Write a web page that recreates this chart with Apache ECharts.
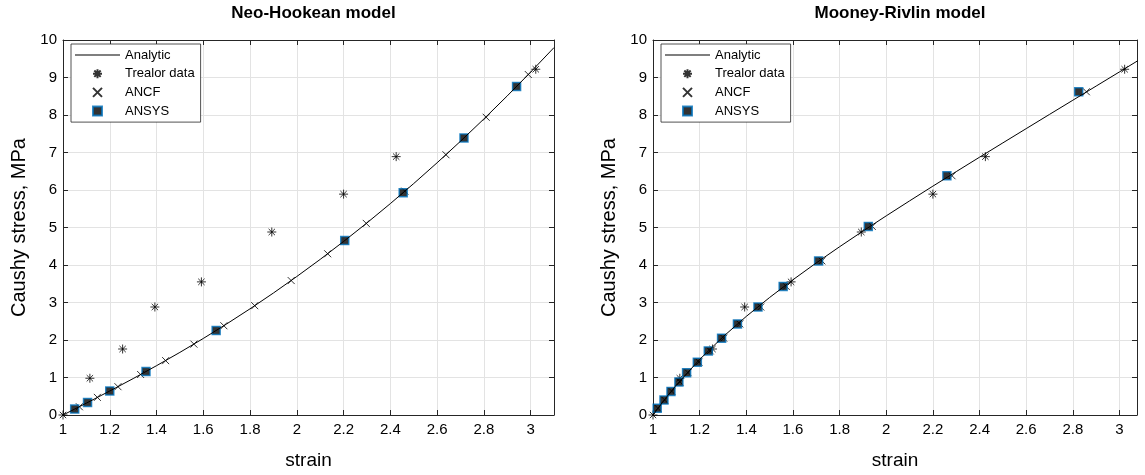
<!DOCTYPE html>
<html><head><meta charset="utf-8">
<script src="https://cdn.jsdelivr.net/npm/echarts@6/dist/echarts.min.js"></script>
<style>html,body{margin:0;padding:0;background:#fff}#c{width:1145px;height:475px}</style>
</head><body><div id="c"></div>
<script>
// ---------- data ----------
const titles = ['Neo-Hookean model', 'Mooney-Rivlin model'];
const xAxisName = 'strain';
const yAxisName = 'Caushy stress, MPa';
const seriesNames = ['Analytic', 'Trealor data', 'ANCF', 'ANSYS'];
const xMax = [3.1, 3.075];
const yTickValues = [0, 1, 2, 3, 4, 5, 6, 7, 8, 9, 10];

const analyticStrain = [1, 1.05, 1.1, 1.2, 1.3, 1.4, 1.5, 1.6, 1.7, 1.8, 1.9, 2.0, 2.1, 2.2, 2.3, 2.4, 2.5, 2.6, 2.7, 2.8, 2.9, 3.0, 3.1];
const nhAnalyticStress = [0, 0.158, 0.317, 0.640, 0.971, 1.315, 1.670, 2.041, 2.428, 2.832, 3.253, 3.693, 4.150, 4.627, 5.122, 5.637, 6.172, 6.726, 7.300, 7.894, 8.509, 9.143, 9.798];
const mrAnalyticStress = [0, 0.416, 0.798, 1.481, 2.084, 2.630, 3.134, 3.606, 4.056, 4.487, 4.904, 5.311, 5.710, 6.103, 6.490, 6.875, 7.257, 7.637, 8.016, 8.394, 8.772, 9.150, 9.529];

const treloarStrain = [1, 1.115, 1.255, 1.393, 1.592, 1.893, 2.2, 2.425, 3.022];
const treloarStress = [0, 0.98, 1.76, 2.88, 3.55, 4.88, 5.89, 6.89, 9.22];

const nhAncfStrain = [1.07, 1.147, 1.235, 1.332, 1.439, 1.56, 1.688, 1.82, 1.976, 2.132, 2.297, 2.462, 2.638, 2.81, 2.99];
const nhAncfStress = [0.22, 0.47, 0.755, 1.08, 1.45, 1.89, 2.38, 2.915, 3.585, 4.30, 5.11, 5.97, 6.94, 7.94, 9.08];
const nhAnsysStrain = [1.05, 1.105, 1.2, 1.355, 1.655, 2.205, 2.455, 2.715, 2.94];
const nhAnsysStress = [0.158, 0.333, 0.640, 1.158, 2.252, 4.651, 5.93, 7.388, 8.76];

const mrAnsysStrain = [1.018, 1.047, 1.077, 1.111, 1.144, 1.19, 1.237, 1.294, 1.362, 1.45, 1.558, 1.71, 1.923, 2.26, 2.825];
const mrAnsysStress = [0.18, 0.40, 0.63, 0.88, 1.13, 1.41, 1.71, 2.05, 2.43, 2.88, 3.43, 4.11, 5.03, 6.38, 8.62];
const mrAncfStrain = [1.021, 1.05, 1.081, 1.116, 1.15, 1.197, 1.245, 1.303, 1.372, 1.462, 1.571, 1.724, 1.94, 2.282, 2.858];
const mrAncfStress = [0.18, 0.40, 0.63, 0.88, 1.13, 1.41, 1.71, 2.05, 2.43, 2.88, 3.43, 4.11, 5.03, 6.38, 8.62];

// ---------- styling ----------
const FONT = 'Liberation Sans, Arial, Helvetica, sans-serif';
const AXC = '#262626';
const GRIDC = '#e3e3e3';
const ASTER = 'path://M0,5L10,5M5,0L5,10M1.46,1.46L8.54,8.54M8.54,1.46L1.46,8.54';
const XMARK = 'path://M0,0L10,10M10,0L0,10';
const SQUARE = 'path://M0,0H10V10H0Z';
const LINEICON = 'path://M0,0H45V1.2H0Z';

const zip = (a, b) => a.map((v, i) => [v, b[i]]);

const grids = [
  {left: 63, top: 40, width: 491, height: 384},
  {left: 653, top: 40, width: 484, height: 384}
];

const xAxes = [], yAxes = [], series = [], legends = [], titleArr = [];
grids.forEach((g, gi) => {
  const suf = gi ? '\u200b' : '';
  xAxes.push({
    type: 'value', gridIndex: gi, min: 1, max: xMax[gi], interval: 0.2,
    position: 'bottom',
    name: xAxisName, nameLocation: 'middle', nameGap: 36,
    nameTextStyle: {fontFamily: FONT, fontSize: 19, color: '#000'},
    axisLine: {show: true, onZero: false, lineStyle: {color: AXC, width: 1}},
    axisTick: {show: true, inside: true, length: 5, lineStyle: {color: AXC}},
    axisLabel: {fontFamily: FONT, fontSize: 15, color: '#000', margin: 7, showMaxLabel: false},
    splitLine: {show: true, lineStyle: {color: GRIDC, width: 1}}
  });
  xAxes.push({
    type: 'value', gridIndex: gi, min: 1, max: xMax[gi], interval: 0.2,
    position: 'top',
    axisLine: {show: true, onZero: false, lineStyle: {color: AXC, width: 1}},
    axisTick: {show: true, inside: true, length: 5, lineStyle: {color: AXC}},
    axisLabel: {show: false}, splitLine: {show: false}
  });
  yAxes.push({
    type: 'value', gridIndex: gi, min: yTickValues[0], max: yTickValues[yTickValues.length - 1], interval: 1,
    position: 'left',
    name: yAxisName, nameLocation: 'middle', nameGap: 34, nameRotate: 90,
    nameTextStyle: {fontFamily: FONT, fontSize: 20, color: '#000'},
    axisLine: {show: true, onZero: false, lineStyle: {color: AXC, width: 1}},
    axisTick: {show: true, inside: true, length: 5, lineStyle: {color: AXC}},
    axisLabel: {fontFamily: FONT, fontSize: 15, color: '#000', margin: 6},
    splitLine: {show: true, lineStyle: {color: GRIDC, width: 1}}
  });
  yAxes.push({
    type: 'value', gridIndex: gi, min: yTickValues[0], max: yTickValues[yTickValues.length - 1], interval: 1,
    position: 'right',
    axisLine: {show: true, onZero: false, lineStyle: {color: AXC, width: 1}},
    axisTick: {show: true, inside: true, length: 5, lineStyle: {color: AXC}},
    axisLabel: {show: false}, splitLine: {show: false}
  });
  titleArr.push({
    text: titles[gi], left: g.left + g.width / 2, top: 0, textAlign: 'center',
    textStyle: {fontFamily: FONT, fontSize: 17, fontWeight: 'bold', color: '#000'}
  });
  legends.push({
    orient: 'vertical', left: g.left + 8, top: 44,
    data: [
      {name: seriesNames[0] + suf, icon: LINEICON},
      {name: seriesNames[1] + suf},
      {name: seriesNames[2] + suf},
      {name: seriesNames[3] + suf}
    ],
    formatter: n => n.replace('\u200b', ''),
    itemWidth: 45, itemHeight: 9, itemGap: 4.7,
    backgroundColor: '#fff', borderColor: AXC, borderWidth: 0.8, borderRadius: 0,
    padding: [4, 6, 4, 4], selectedMode: false,
    textStyle: {fontFamily: FONT, fontSize: 13, color: '#000', lineHeight: 14}
  });
});

const sets = [
  {analytic: nhAnalyticStress, ancfX: nhAncfStrain, ancfY: nhAncfStress, ansysX: nhAnsysStrain, ansysY: nhAnsysStress},
  {analytic: mrAnalyticStress, ancfX: mrAncfStrain, ancfY: mrAncfStress, ansysX: mrAnsysStrain, ansysY: mrAnsysStress}
];
sets.forEach((s, gi) => {
  const suf = gi ? '\u200b' : '';
  const xi = gi * 2, yi = gi * 2;
  series.push({
    type: 'line', name: seriesNames[0] + suf, xAxisIndex: xi, yAxisIndex: yi,
    data: zip(analyticStrain, s.analytic), symbol: 'none', showSymbol: false,
    lineStyle: {color: '#000', width: 1}, itemStyle: {color: '#000'}, silent: true, clip: true
  });
  series.push({
    type: 'scatter', name: seriesNames[1] + suf, xAxisIndex: xi, yAxisIndex: yi,
    data: zip(treloarStrain, treloarStress), symbol: ASTER, symbolSize: 9,
    itemStyle: {color: 'rgba(0,0,0,0)', borderColor: '#000', borderWidth: 1}, silent: true, clip: false
  });
  series.push({
    type: 'scatter', name: seriesNames[2] + suf, xAxisIndex: xi, yAxisIndex: yi,
    data: zip(s.ancfX, s.ancfY), symbol: XMARK, symbolSize: 7,
    itemStyle: {color: 'rgba(0,0,0,0)', borderColor: '#000', borderWidth: 1}, silent: true, clip: false
  });
  series.push({
    type: 'scatter', name: seriesNames[3] + suf, xAxisIndex: xi, yAxisIndex: yi,
    data: zip(s.ansysX, s.ansysY), symbol: SQUARE, symbolSize: 8,
    itemStyle: {color: '#000', borderColor: '#0072BD', borderWidth: 1.5}, silent: true, clip: false
  });
});

const chart = echarts.init(document.getElementById('c'), null, {renderer: 'canvas'});
chart.setOption({
  animation: false,
  backgroundColor: '#fff',
  title: titleArr,
  grid: grids,
  xAxis: xAxes,
  yAxis: yAxes,
  legend: legends,
  series: series
});
</script>
</body></html>
